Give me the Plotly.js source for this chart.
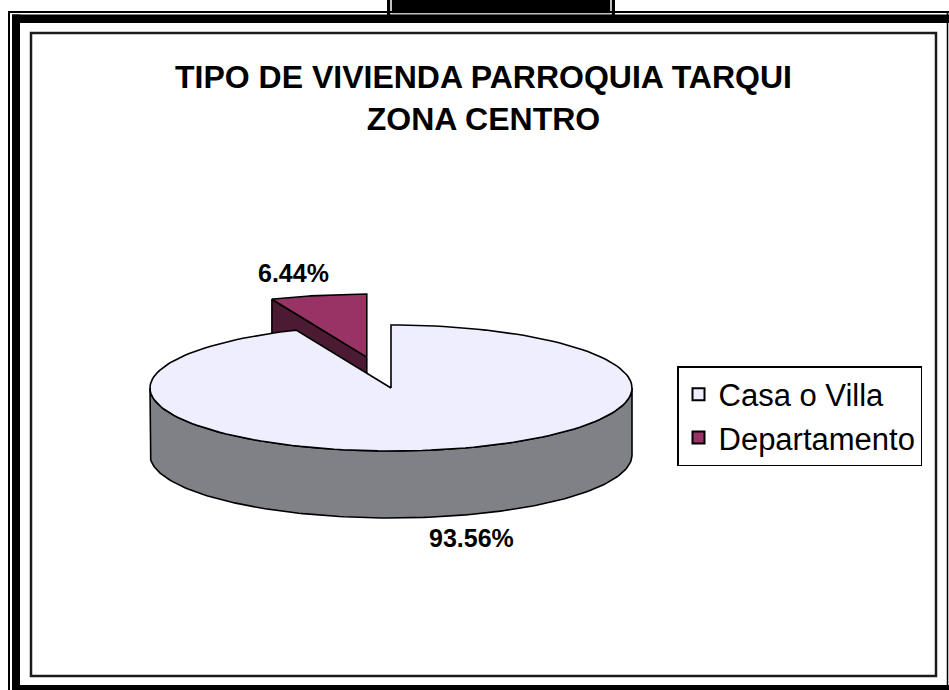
<!DOCTYPE html>
<html>
<head>
<meta charset="utf-8">
<script src="https://cdn.plot.ly/plotly-3.0.1.min.js"></script>
<style>html,body{margin:0;padding:0;background:#fff;}#chart{width:949px;height:690px;}</style>
</head>
<body>
<div id="chart"></div>
<script>
// ---- data ----
var categories = ['Casa o Villa', 'Departamento'];
var values = [93.56, 6.44];
var topColors = ['#eeeeff', '#993366'];
var sideColors = ['#808087', '#4d1a33'];
var chartTitle = 'TIPO DE VIVIENDA PARROQUIA TARQUI<br>ZONA CENTRO';

// ---- 3D pie geometry (pixel-like axis units) ----
var cx = 391, cy = 388, rx = 241, ry = 63, depth = 67, pull = 0.5;
var total = values.reduce(function (a, b) { return a + b; }, 0);
function pt(thDeg, ox, oy) {
  var t = thDeg * Math.PI / 180;
  return [ox + rx * Math.sin(t), oy - ry * Math.cos(t)];
}
function arc(a0, a1, ox, oy, dy) {
  var n = 160, xs = [], ys = [];
  for (var i = 0; i <= n; i++) {
    var p = pt(a0 + (a1 - a0) * i / n, ox, oy);
    xs.push(p[0]); ys.push(p[1] + (dy || 0));
  }
  return [xs, ys];
}
var a0 = 0, a1 = 360 * values[0] / total;   // Casa o Villa: from 12 o'clock clockwise
var b0 = a1, b1 = 360;                        // Departamento
var bis = (b0 + b1) / 2 * Math.PI / 180;
var dcx = cx + pull * rx * Math.sin(bis), dcy = cy - pull * ry * Math.cos(bis);

var traces = [];
var lineSty = {color: '#000', width: 1.6};
// Departamento inner side face
var pb = pt(b0, dcx, dcy);
traces.push({x: [dcx, pb[0], pb[0], dcx, dcx], y: [dcy, pb[1], pb[1] + depth, dcy + depth, dcy],
  mode: 'lines', fill: 'toself', fillcolor: sideColors[1], line: lineSty, showlegend: false, hoverinfo: 'skip'});
// Departamento top face
var ab = arc(b0, b1, dcx, dcy);
traces.push({x: [dcx].concat(ab[0], [dcx]), y: [dcy].concat(ab[1], [dcy]),
  mode: 'lines', fill: 'toself', fillcolor: topColors[1], line: lineSty, showlegend: false, hoverinfo: 'skip'});
// Casa front side
var s1 = arc(90, 270, cx, cy, 0), s2 = arc(270, 90, cx, cy, depth);
traces.push({x: s1[0].concat(s2[0], [s1[0][0]]), y: s1[1].concat(s2[1], [s1[1][0]]),
  mode: 'lines', fill: 'toself', fillcolor: sideColors[0], line: lineSty, showlegend: false, hoverinfo: 'skip'});
// Casa top face
var at = arc(a0, a1, cx, cy);
traces.push({x: [cx].concat(at[0], [cx]), y: [cy].concat(at[1], [cy]),
  mode: 'lines', fill: 'toself', fillcolor: topColors[0], line: lineSty, showlegend: false, hoverinfo: 'skip'});
// legend entries
categories.forEach(function (c, i) {
  traces.push({x: [null], y: [null], mode: 'markers', name: c,
    marker: {symbol: 'square', size: 14, color: topColors[i], line: {color: '#000', width: 1}}});
});

var FONT = '"Liberation Sans", Arial, sans-serif';
var shapes = [
  // small top box
  {type: 'rect', x0: 387, x1: 615, y0: -5, y1: 18, fillcolor: '#000', line: {width: 0}},
  {type: 'rect', x0: 391, x1: 611, y0: -5, y1: 14, fillcolor: 'rgba(0,0,0,0)', line: {color: '#fff', width: 1.5}},
  // outer thin lines
  {type: 'line', x0: 9, x1: 9, y0: 11.5, y1: 695, line: {color: '#000', width: 2}},
  {type: 'line', x0: 8, x1: 955, y0: 12, y1: 12, line: {color: '#000', width: 2}},
  {type: 'line', x0: 947.5, x1: 947.5, y0: 12, y1: 686, line: {color: '#000', width: 1.5}},
  // thick bands
  {type: 'rect', x0: 12, x1: 955, y0: 14.5, y1: 23, fillcolor: '#000', line: {width: 0}},
  {type: 'rect', x0: 12, x1: 20, y0: 14.5, y1: 695, fillcolor: '#000', line: {width: 0}},
  {type: 'rect', x0: 12, x1: 955, y0: 685, y1: 695, fillcolor: '#000', line: {width: 0}},
  // inner chart box
  {type: 'rect', x0: 31, x1: 936, y0: 33, y1: 676, fillcolor: 'rgba(0,0,0,0)', line: {color: '#1a1a1a', width: 2.5}}
];

// labels positioned off the slices
var annotations = [
  {x: 293, y: 273, text: values[1].toFixed(2) + '%'},
  {x: 471, y: 538, text: values[0].toFixed(2) + '%'}
].map(function (a) {
  return {x: a.x, y: a.y, xref: 'x', yref: 'y', text: a.text, showarrow: false,
    font: {family: FONT, size: 25, color: '#000', weight: 'bold'}};
});
annotations.push({x: 483, y: 98, xref: 'x', yref: 'y', text: '<b>' + chartTitle + '</b>', showarrow: false,
  font: {family: FONT, size: 32, color: '#000'}});

var layout = {
  width: 949, height: 690,
  margin: {l: 0, r: 0, t: 0, b: 0},
  paper_bgcolor: '#fff', plot_bgcolor: '#fff',
  xaxis: {range: [0, 949], visible: false, fixedrange: true},
  yaxis: {range: [690, 0], visible: false, fixedrange: true},
  showlegend: true,
  legend: {x: 677 / 949, y: 1 - 366 / 690, xanchor: 'left', yanchor: 'top',
    bordercolor: '#000', borderwidth: 1.5, bgcolor: '#fff',
    font: {family: FONT, size: 31, color: '#000'}, itemsizing: 'constant'},
  shapes: shapes,
  annotations: annotations
};
Plotly.newPlot('chart', traces, layout, {staticPlot: true});
</script>
</body>
</html>
